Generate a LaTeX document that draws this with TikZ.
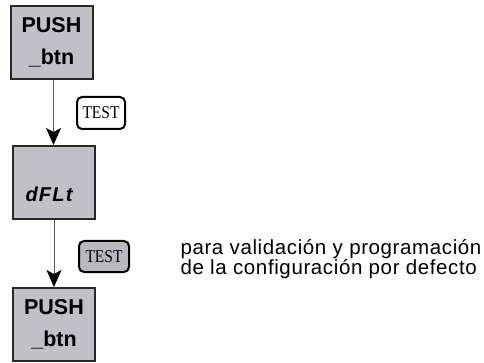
\documentclass[tikz,border=0pt]{standalone}
\usepackage{fontspec}
\setmainfont{Liberation Sans}
\newfontfamily\keyfont[FakeStretch=0.86]{Liberation Serif}
\usepackage{tikz}
\usetikzlibrary{arrows.meta, positioning}
\definecolor{panelgray}{RGB}{192,192,198}
\definecolor{keygray}{RGB}{184,184,190}
\definecolor{edgegray}{RGB}{40,40,40}

\begin{document}
\begin{tikzpicture}[x=1pt, y=-1pt,
    panel/.style={draw=edgegray, fill=panelgray, line width=2pt, minimum width=82pt, minimum height=73pt, align=center,
      font=\fontsize{21.5}{32}\selectfont\bfseries},
    testkey/.style={draw=black, line width=2pt, rounded corners=5pt, minimum width=48pt, minimum height=32pt, inner sep=0pt,
      font=\keyfont\fontsize{18}{18}\selectfont},
    flecha/.style={-{Stealth[black, length=17pt, width=15pt, inset=4pt]}, draw=black!65, line width=1pt},
]
  \useasboundingbox (0,0) rectangle (484,363);

  \node[panel] (pushA) at (51.5,42.5) {PUSH \\ \_btn};
  \node[panel, inner sep=0pt, text height=56pt, text depth=17pt, minimum height=0pt,
    font=\fontsize{20}{20}\selectfont\bfseries\itshape\addfontfeature{LetterSpace=6}] (dflt) at (53.5,182.5) {dFLt\kern9pt};
  \node[panel] (pushB) at (54,324.5) {PUSH \\ \_btn};

  % TEST keys beside the arrows
  \node[testkey, fill=white] (keyA) at (101,113) {TEST};
  \node[testkey, fill=keygray, minimum width=50pt, minimum height=31pt] (keyB) at (104,256.5) {TEST};

  \draw[flecha] (pushA.south -| dflt.north) -- (dflt.north);
  \draw[flecha] (dflt.south -| pushB.north) -- (pushB.north);

  \node[anchor=base west, align=left, font=\fontsize{20.5}{19.5}\selectfont\addfontfeature{LetterSpace=3}] (nota) at (177,274)
    {para validación y programación \\ de la configuración por defecto};
\end{tikzpicture}
\end{document}
